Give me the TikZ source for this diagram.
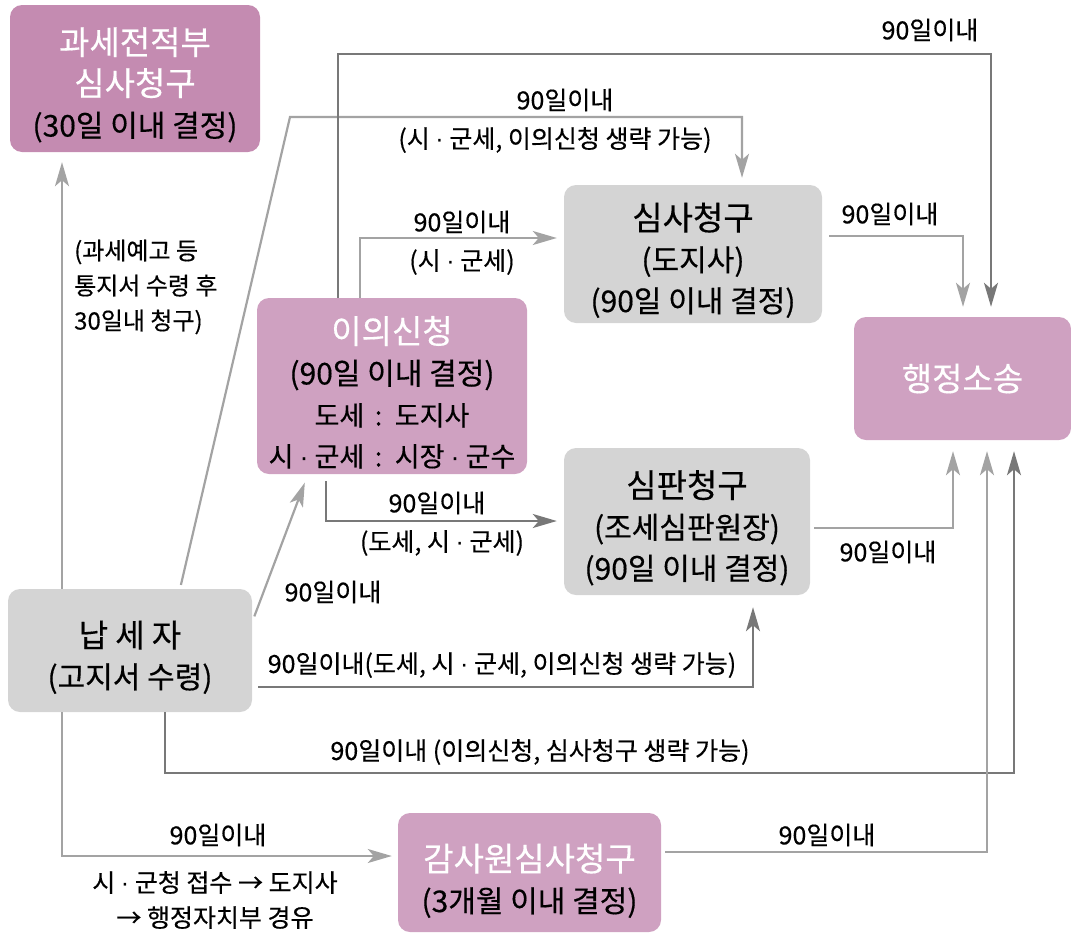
\documentclass[tikz,border=0pt]{standalone}
\usepackage{fontspec}
\setmainfont{Noto Sans CJK KR}[FakeBold=0.4]
\newfontfamily\dotfont{Liberation Sans}
\usetikzlibrary{arrows.meta}
\definecolor{plumfill}{HTML}{C48BB1}
\definecolor{pinkfill}{HTML}{CFA1C1}
\definecolor{boxgray}{HTML}{D4D4D4}
\definecolor{linelight}{HTML}{A3A3A3}
\definecolor{linedark}{HTML}{787878}
\newcommand{\boxtitle}{\fontsize{33}{41}\selectfont}
\newcommand{\boxsub}{\fontsize{30}{41}\selectfont}
\newcommand{\boxsmall}{\fontsize{27}{41}\selectfont}
\newcommand{\mdot}{{\dotfont ·}}
\newcommand{\topstrut}{\rule{0pt}{40pt}}
\tikzset{
  box/.style={rectangle, rounded corners=12pt, inner sep=0pt, align=center, font=\boxsub},
  plumbox/.style={box, fill=plumfill},
  pinkbox/.style={box, fill=pinkfill},
  greybox/.style={box, fill=boxgray},
  flow/.style={->, line width=2.2pt, draw=linelight},
  flowdark/.style={flow, draw=linedark},
  lbl/.style={font=\fontsize{25}{35}\selectfont, inner sep=0pt}
}
\begin{document}
\begin{tikzpicture}[x=1pt,y=-1pt,>={Stealth[length=24pt,width=14pt,inset=6pt]}]
\useasboundingbox (0,0) rectangle (1071,932);
% boxes
\node[plumbox, minimum width=250pt, minimum height=147pt] (prereview) at (135,78.5)
  {{\boxtitle\color{white}\topstrut 과세전적부}\\{\boxtitle\color{white}심사청구}\\(30일 이내 결정)};
\node[pinkbox, minimum width=270pt, minimum height=176pt] (objection) at (392,386)
  {{\boxtitle\color{white}\topstrut 이의신청}\\(90일 이내 결정)\\{\boxsmall 도세 \,:\, 도지사}\\{\boxsmall 시 \mdot{} 군세 \,:\, 시장 \mdot{} 군수}};
\node[greybox, minimum width=258pt, minimum height=138pt] (review) at (693,254)
  {{\boxtitle\topstrut 심사청구}\\(도지사)\\(90일 이내 결정)};
\node[pinkbox, minimum width=217pt, minimum height=123pt] (lawsuit) at (962.5,378.5)
  {{\boxtitle\color{white}행정소송}};
\node[greybox, minimum width=246pt, minimum height=147pt] (tribunal) at (687,521.5)
  {{\boxtitle\topstrut 심판청구}\\(조세심판원장)\\(90일 이내 결정)};
\node[greybox, minimum width=244pt, minimum height=123pt] (taxpayer) at (130,650.5)
  {{\fontsize{32}{41}\selectfont\topstrut 납 세 자}\\(고지서 수령)};
\node[pinkbox, minimum width=263pt, minimum height=119pt] (audit) at (529.5,872.5)
  {{\boxtitle\color{white}\rule{0pt}{44pt}감사원심사청구}\\(3개월 이내 결정)};

% connectors
\draw[flow, shorten >=10pt] (taxpayer.north -| 62,0) -- (prereview.south -| 62,0);
\draw[flow, shorten <=4pt, shorten >=7pt] (taxpayer.north -| 180,0) -- (290,117) -- (742,117) -- (review.north -| 742,0);
\draw[flowdark, shorten >=10pt] (objection.north -| 338,0) -- (338,54) -- (991,54) -- (lawsuit.north -| 991,0);
\draw[flow, shorten >=7pt] (objection.north -| 360,0) -- (360,238) -- (review.west |- 0,238);
\draw[flow, shorten <=7pt, shorten >=10pt] (review.east |- 0,236) -- (963,236) -- (lawsuit.north -| 963,0);
\draw[flowdark, shorten <=7pt, shorten >=7pt] (objection.south -| 326,0) -- (326,521) -- (tribunal.west |- 0,521);
\draw[flow, shorten <=6pt, shorten >=9pt] (taxpayer.east |- 0,622) -- (objection.south -| 308,0);
\draw[flowdark, shorten <=6pt, shorten >=12pt] (taxpayer.east |- 0,687) -- (753,687) -- (tribunal.south -| 753,0);
\draw[flow, shorten <=4pt, shorten >=11pt] (tribunal.east |- 0,528) -- (953,528) -- (lawsuit.south -| 953,0);
\draw[flowdark, shorten >=11pt] (taxpayer.south -| 165,0) -- (165,773) -- (1014,773) -- (lawsuit.south -| 1014,0);
\draw[flow, shorten >=6pt] (taxpayer.south -| 62,0) -- (62,856) -- (audit.west |- 0,856);
\draw[flow, shorten <=4pt, shorten >=11pt] (audit.east |- 0,852) -- (987,852) -- (lawsuit.south -| 987,0);

% labels
\node[lbl, anchor=west, align=left, font=\fontsize{24}{35}\selectfont] (prenote) at (74,287) {(과세예고 등\\통지서 수령 후\\30일내 청구)};
\node[lbl] (skiptop) at (565,100) {90일이내};
\node[lbl] (skiptopb) at (555,140) {(시 \mdot{} 군세, 이의신청 생략 가능)};
\node[lbl] (objlaw) at (930,30) {90일이내};
\node[lbl] (objrev) at (462,222) {90일이내};
\node[lbl] (objrevb) at (462,262) {(시 \mdot{} 군세)};
\node[lbl] (revlaw) at (890,214) {90일이내};
\node[lbl] (objtri) at (437,503) {90일이내};
\node[lbl] (objtrib) at (442,543) {(도세, 시 \mdot{} 군세)};
\node[lbl] (taxobj) at (333,592) {90일이내};
\node[lbl] (taxtri) at (502,665) {90일이내(도세, 시 \mdot{} 군세, 이의신청 생략 가능)};
\node[lbl] (trilaw) at (888,552) {90일이내};
\node[lbl] (taxlaw) at (540,752) {90일이내 (이의신청, 심사청구 생략 가능)};
\node[lbl] (taxaud) at (218,835) {90일이내};
\node[lbl, align=center] (taxaudb) at (215,900) {시 \mdot{} 군청 접수 → 도지사\\→ 행정자치부 경유};
\node[lbl] (audlaw) at (827,835) {90일이내};
\end{tikzpicture}
\end{document}
